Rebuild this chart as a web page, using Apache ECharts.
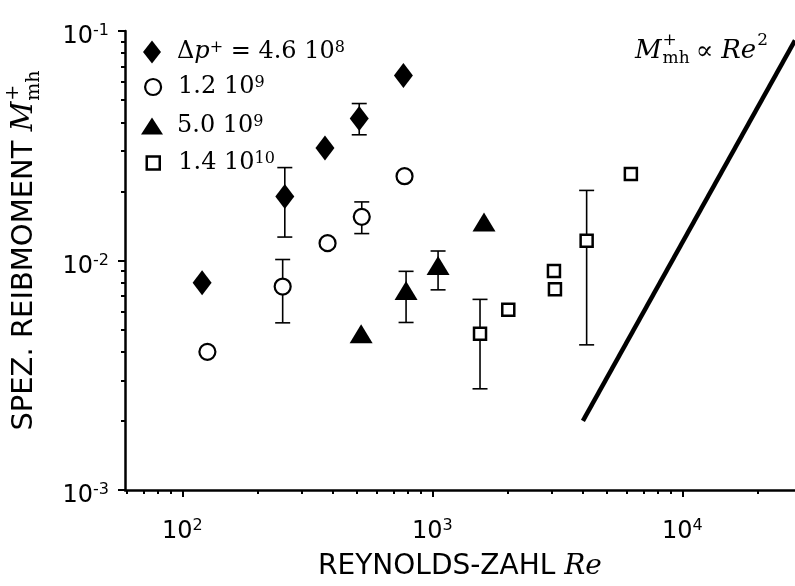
<!DOCTYPE html>
<html>
<head>
<meta charset="utf-8">
<script src="https://cdn.jsdelivr.net/npm/echarts@6/dist/echarts.min.js"></script>
<style>
  html, body { margin: 0; padding: 0; background: #fff; }
  #main { width: 795px; height: 586px; }
</style>
</head>
<body>
<div id="main"></div>
<script>
// values (Re, M+mh)
const diamondRe = [120, 257, 372, 510, 766];
const diamondM = [0.0080, 0.0190, 0.0309, 0.0416, 0.0640];
const circleRe = [126, 252, 381, 522, 774];
const circleM = [0.0040, 0.0077, 0.0119, 0.0155, 0.0233];
const triangleRe = [519, 785, 1054, 1609];
const triangleM = [0.0048, 0.0074, 0.0095, 0.0147];
const squareRe = [1551, 2012, 3064, 3092, 4140, 6221];
const squareM = [0.0048, 0.0061, 0.0090, 0.0075, 0.0122, 0.0238];

// error bars
const errRe = [257, 510, 252, 522, 785, 1054, 1551, 4140];
const errLow = [0.01265, 0.0353, 0.00535, 0.0131, 0.00537, 0.00745, 0.00276, 0.00429];
const errHigh = [0.0254, 0.0483, 0.0101, 0.0180, 0.00897, 0.0110, 0.00677, 0.0202];

// M ~ Re^2 guide line
const fitRe = [4000, 28200];
const fitM = [0.002, 0.091];

// legend: pressure levels
const pressureMant = ['4.6', '1.2', '5.0', '1.4'];
const pressureExp = ['8', '9', '9', '10'];

// ticks
const xMajor = [100, 1000, 10000];
const xMinor = [60, 70, 80, 90, 200, 300, 400, 500, 600, 700, 800, 900,
  2000, 3000, 4000, 5000, 6000, 7000, 8000, 9000, 20000];
const yMajor = [0.001, 0.01, 0.1];
const yMinor = [0.002, 0.003, 0.004, 0.005, 0.006, 0.007, 0.008, 0.009,
  0.02, 0.03, 0.04, 0.05, 0.06, 0.07, 0.08, 0.09];

const sans = 'DejaVu Sans';
const serif = 'DejaVu Serif';

function pairs(xs, ys) {
  return xs.map((x, i) => [x, ys[i]]);
}

function expLabel(v) {
  const e = Math.round(Math.log10(v));
  return '{b|10}{s|' + e + '}';
}

const tickRich = {
  b: { fontFamily: sans, fontSize: 24, lineHeight: 28, color: '#000' },
  s: { fontFamily: sans, fontSize: 16, lineHeight: 12, verticalAlign: 'top', color: '#000' }
};

const ctx = document.createElement('canvas').getContext('2d');
function tw(font, s) {
  ctx.font = font;
  return ctx.measureText(s).width;
}

const seriesNames = pressureMant.map((m, i) => m + 'e' + pressureExp[i]);
function legendText(i) {
  if (i === 0) return '{n|\u0394}{i|p}{s|+}{n| = ' + pressureMant[0] + ' 10}{s|' + pressureExp[0] + '}';
  return '{n|' + pressureMant[i] + ' 10}{s|' + pressureExp[i] + '}';
}
const legendRich = {
  n: { fontFamily: serif, fontSize: 24, lineHeight: 24, color: '#000' },
  i: { fontFamily: serif, fontStyle: 'italic', fontSize: 24, lineHeight: 24, color: '#000' },
  s: { fontFamily: serif, fontSize: 16, lineHeight: 12, verticalAlign: 'top', color: '#000' }
};

// legend entries: icon, size, style
const legendIcons = ['diamond', 'circle', 'triangle', 'rect'];
const legendSize = [[18, 23], [16, 16], [22, 17], [13, 13]];
const legendCy = [52, 87, 126, 163];
const hollow = { color: '#fff', borderColor: '#000', borderWidth: 2.2, opacity: 1 };
const solid = { color: '#000', borderWidth: 0, opacity: 1 };
const hollowSq = { color: '#fff', borderColor: '#000', borderWidth: 2.5, opacity: 1 };
const legendStyle = [solid, hollow, solid, hollowSq];

const legends = seriesNames.map((name, i) => ({
  data: [{ name: name, icon: legendIcons[i] }],
  left: 152 - legendSize[i][0] / 2,
  top: legendCy[i] - 12,
  padding: 0,
  itemWidth: legendSize[i][0],
  itemHeight: legendSize[i][1],
  symbolKeepAspect: false,
  selectedMode: false,
  itemStyle: legendStyle[i],
  formatter: () => legendText(i),
  textStyle: { rich: legendRich, padding: [0, 0, 0, 177 - (152 + legendSize[i][0] / 2) - 5] }
}));

// y axis title, rotated, with stacked sub/superscript
const yTitleFont = '29px ' + sans;
const yMFont = 'italic 29px ' + serif;
const ySmallFont = '19px ' + serif;
const yw1 = tw(yTitleFont, 'SPEZ. REIBMOMENT ');
const ywM = tw(yMFont, 'M');
const ywS = tw(ySmallFont, 'mh');
const yTotal = yw1 + ywM + ywS + 2;
const yTitle = {
  type: 'group',
  x: 24,
  y: 250 + yTotal / 2,
  rotation: Math.PI / 2,
  children: [
    { type: 'text', x: 0, y: 0, style: { text: 'SPEZ. REIBMOMENT ', font: yTitleFont, fill: '#000', align: 'left', verticalAlign: 'middle' } },
    { type: 'text', x: yw1, y: 0, style: { text: 'M', font: yMFont, fill: '#000', align: 'left', verticalAlign: 'middle' } },
    { type: 'text', x: yw1 + ywM + 1, y: -11, style: { text: '+', font: ySmallFont, fill: '#000', align: 'left', verticalAlign: 'middle' } },
    { type: 'text', x: yw1 + ywM + 1, y: 10, style: { text: 'mh', font: ySmallFont, fill: '#000', align: 'left', verticalAlign: 'middle' } }
  ]
};

// annotation M+mh ~ Re^2
const aMFont = 'italic 26px ' + serif;
const aSmall = '17px ' + serif;
const aNorm = '26px ' + serif;
const ax0 = 635;
const awM = tw(aMFont, 'M');
const axS = ax0 + awM + 1;
const axP = axS + tw(aSmall, 'mh') + 6;
const axR = axP + tw(aNorm, '\u221d') + 8;
const axE = axR + tw(aMFont, 'Re') + 1;
const ay = 51;
const note = {
  type: 'group',
  children: [
    { type: 'text', x: ax0, y: ay, style: { text: 'M', font: aMFont, fill: '#000', verticalAlign: 'middle' } },
    { type: 'text', x: axS, y: ay - 10, style: { text: '+', font: aSmall, fill: '#000', verticalAlign: 'middle' } },
    { type: 'text', x: axS, y: ay + 8, style: { text: 'mh', font: aSmall, fill: '#000', verticalAlign: 'middle' } },
    { type: 'text', x: axP, y: ay + 1, style: { text: '\u221d', font: aNorm, fill: '#000', verticalAlign: 'middle' } },
    { type: 'text', x: axR, y: ay, style: { text: 'Re', font: aMFont, fill: '#000', verticalAlign: 'middle' } },
    { type: 'text', x: axE, y: ay - 10, style: { text: '2', font: aSmall, fill: '#000', verticalAlign: 'middle' } }
  ]
};

const chart = echarts.init(document.getElementById('main'), null, { renderer: 'canvas' });

const option = {
  animation: false,
  backgroundColor: '#fff',
  grid: { left: 125, right: 0, top: 31, bottom: 91 },
  legend: legends,
  xAxis: [{
    type: 'log', min: 59, max: 28200, position: 'bottom',
    axisLine: { lineStyle: { color: '#000', width: 2.5 } },
    axisTick: { customValues: xMajor, length: 7, lineStyle: { color: '#000', width: 2 } },
    axisLabel: { customValues: xMajor, formatter: expLabel, margin: 28, rich: tickRich },
    splitLine: { show: false },
    name: 'REYNOLDS-ZAHL {i|Re}',
    nameLocation: 'middle',
    nameGap: 63,
    nameTextStyle: {
      fontFamily: sans, fontSize: 28, color: '#000',
      rich: { i: { fontFamily: serif, fontStyle: 'italic', fontSize: 28, color: '#000' } }
    }
  }, {
    type: 'log', min: 59, max: 28200, position: 'bottom',
    axisLine: { show: false },
    axisTick: { customValues: xMinor, length: 4, lineStyle: { color: '#000', width: 2 } },
    axisLabel: { show: false },
    splitLine: { show: false }
  }],
  yAxis: [{
    type: 'log', min: 0.001, max: 0.1, position: 'left',
    axisLine: { lineStyle: { color: '#000', width: 2.5 } },
    axisTick: { customValues: yMajor, length: 7, lineStyle: { color: '#000', width: 2 } },
    axisLabel: { customValues: yMajor, formatter: expLabel, margin: 16, rich: tickRich, padding: [12, 0, 0, 0] },
    splitLine: { show: false }
  }, {
    type: 'log', min: 0.001, max: 0.1, position: 'left',
    axisLine: { show: false },
    axisTick: { customValues: yMinor, length: 4, lineStyle: { color: '#000', width: 2 } },
    axisLabel: { show: false },
    splitLine: { show: false }
  }],
  graphic: [yTitle, note],
  series: [
    {
      type: 'custom',
      data: errRe.map((x, i) => [x, errLow[i], errHigh[i]]),
      encode: { x: 0, y: [1, 2] },
      z: 1,
      silent: true,
      renderItem: function (params, api) {
        const lo = api.coord([api.value(0), api.value(1)]);
        const hi = api.coord([api.value(0), api.value(2)]);
        const w = 7.5;
        const st = { stroke: '#000', lineWidth: 1.6 };
        return {
          type: 'group',
          children: [
            { type: 'line', shape: { x1: lo[0], y1: lo[1], x2: hi[0], y2: hi[1] }, style: st },
            { type: 'line', shape: { x1: lo[0] - w, y1: lo[1], x2: lo[0] + w, y2: lo[1] }, style: st },
            { type: 'line', shape: { x1: hi[0] - w, y1: hi[1], x2: hi[0] + w, y2: hi[1] }, style: st }
          ]
        };
      }
    },
    {
      type: 'line', data: pairs(fitRe, fitM), symbol: 'none', z: 2,
      lineStyle: { color: '#000', width: 4.5 }, silent: true
    },
    {
      name: seriesNames[0], type: 'scatter', data: pairs(diamondRe, diamondM), z: 3,
      symbol: 'diamond', symbolSize: [19, 25], itemStyle: solid
    },
    {
      name: seriesNames[1], type: 'scatter', data: pairs(circleRe, circleM), z: 3,
      symbol: 'circle', symbolSize: 16, itemStyle: hollow
    },
    {
      name: seriesNames[2], type: 'scatter', data: pairs(triangleRe, triangleM), z: 3,
      symbol: 'triangle', symbolSize: [23, 19], itemStyle: solid
    },
    {
      name: seriesNames[3], type: 'scatter', data: pairs(squareRe, squareM), z: 3,
      symbol: 'rect', symbolSize: 12, itemStyle: hollowSq
    }
  ]
};

chart.setOption(option);
</script>
</body>
</html>
